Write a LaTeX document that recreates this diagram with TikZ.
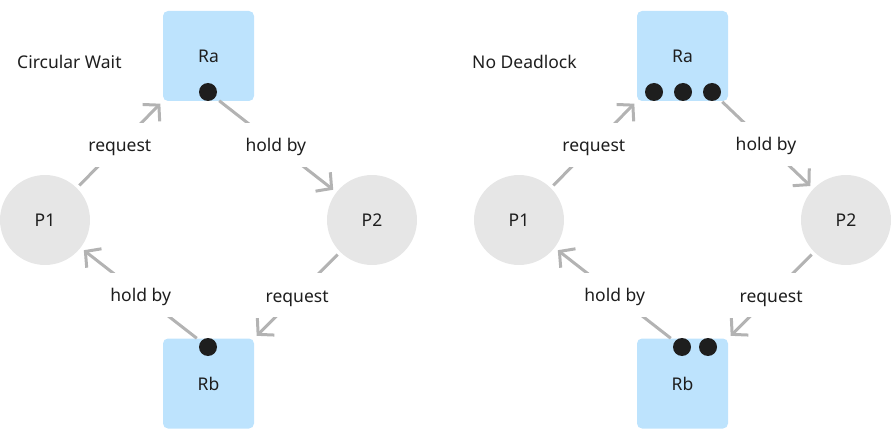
\documentclass[tikz,border=0pt]{standalone}
\usepackage{fontspec}
\setmainfont{Noto Sans}
\usetikzlibrary{arrows.meta}
\definecolor{boxblue}{HTML}{BDE3FD}
\definecolor{procgray}{HTML}{E6E6E6}
\definecolor{linegray}{HTML}{B3B3B3}
\definecolor{dotblack}{HTML}{1E1E1E}
\definecolor{txt}{HTML}{1E1E1E}
\tikzset{
  txtfont/.style={font=\fontsize{17.5}{20}\selectfont},
  res/.style={rectangle, rounded corners=5pt, fill=boxblue, minimum width=91pt, minimum height=90pt, inner sep=0pt, text=txt, txtfont},
  proc/.style={circle, fill=procgray, minimum size=90pt, inner sep=0pt, text=txt, txtfont},
  tok/.style={circle, fill=dotblack, minimum size=18pt, inner sep=0pt},
  conn/.style={draw=linegray, line width=3pt, -{Straight Barb[length=11pt,width=24pt]}},
  lbl/.style={fill=white, inner xsep=2pt, inner ysep=14pt, text height=15pt, text depth=1pt, text=txt, txtfont},
  ttl/.style={anchor=west, inner sep=0pt, text=txt, txtfont}
}
\begin{document}
\begin{tikzpicture}[x=1pt,y=-1pt]
\useasboundingbox (0,0) rectangle (895,441);
% ---------- left: Circular Wait ----------
\node[ttl] (t1) at (17,62) {Circular Wait};
\node[res] (Ra) at (208.5,56) {Ra};
\node[res] (Rb) at (208.5,383.5) {Rb};
\node[proc] (P1) at (45,220) {P1};
\node[proc] (P2) at (372,220) {P2};
\node[tok] (da) at (208,92) {};
\node[tok] (db) at (208,347) {};
\draw[conn, shorten <=3.5pt, shorten >=3.5pt] (P1) -- node[lbl]{request} (Ra.south west);
\draw[conn, shorten <=5pt, shorten >=4pt] (da) -- node[lbl]{hold by} (P2);
\draw[conn, shorten <=3.5pt, shorten >=3.5pt] (P2) -- node[lbl]{request} (Rb.north east);
\draw[conn, shorten <=5pt, shorten >=4pt] (db) -- node[lbl]{hold by} (P1);
% ---------- right: No Deadlock ----------
\node[ttl] (t2) at (472,62) {No Deadlock};
\node[res] (Ra2) at (682.5,56) {Ra};
\node[res] (Rb2) at (682.5,383.5) {Rb};
\node[proc] (P12) at (519,220) {P1};
\node[proc] (P22) at (846,220) {P2};
\node[tok] (da1) at (654,92) {};
\node[tok] (da2) at (683,92) {};
\node[tok] (da3) at (712,92) {};
\node[tok] (db1) at (682,347) {};
\node[tok] (db2) at (708,347) {};
\draw[conn, shorten <=3.5pt, shorten >=3.5pt] (P12) -- node[lbl]{request} (Ra2.south west);
\draw[conn, shorten <=5pt, shorten >=4pt] (da3) -- node[lbl]{hold by} (P22);
\draw[conn, shorten <=3.5pt, shorten >=3.5pt] (P22) -- node[lbl]{request} (Rb2.north east);
\draw[conn, shorten <=5pt, shorten >=4pt] (db1) -- node[lbl]{hold by} (P12);
\end{tikzpicture}
\end{document}
